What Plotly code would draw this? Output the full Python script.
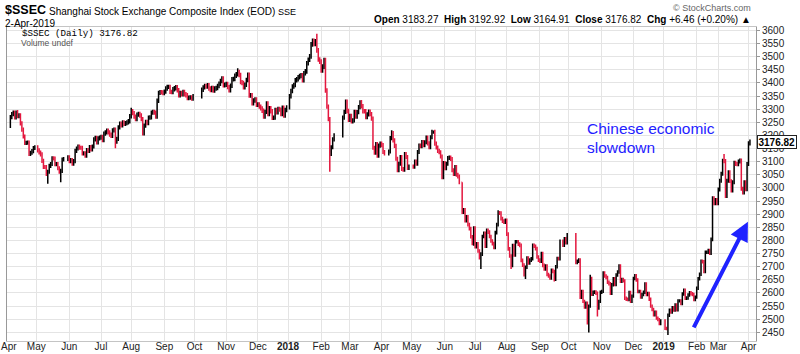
import datetime as dt
import plotly.graph_objects as go

# ---------------- data (daily closes, per month) ----------------
close_2017_04 = [3270, 3281, 3287, 3269, 3289, 3274, 3276, 3246, 3222, 3196, 3171, 3172, 3173, 3129, 3134, 3140, 3152, 3155]
close_2017_05 = [3143, 3135, 3128, 3103, 3080, 3080, 3053, 3062, 3084, 3091, 3113, 3112, 3090, 3091, 3075, 3062, 3065, 3108, 3110, 3117]
close_2017_06 = [3102, 3106, 3092, 3102, 3141, 3150, 3158, 3153, 3153, 3131, 3132, 3123, 3144, 3141, 3156, 3147, 3158, 3185, 3191, 3173, 3189, 3192]
close_2017_07 = [3195, 3182, 3207, 3212, 3218, 3212, 3203, 3198, 3219, 3222, 3176, 3187, 3231, 3245, 3238, 3250, 3244, 3247, 3250, 3254, 3273]
close_2017_08 = [3292, 3285, 3272, 3262, 3279, 3282, 3276, 3262, 3208, 3237, 3252, 3247, 3268, 3269, 3287, 3290, 3287, 3272, 3332, 3362, 3365, 3364, 3361]
close_2017_09 = [3367, 3379, 3385, 3385, 3366, 3365, 3376, 3380, 3384, 3372, 3353, 3362, 3357, 3366, 3357, 3353, 3342, 3344, 3345, 3340, 3349]
close_2017_10 = [3374, 3383, 3388, 3386, 3391, 3379, 3373, 3381, 3371, 3379, 3381, 3388, 3397, 3407, 3417, 3391, 3393]
close_2017_11 = [3396, 3384, 3372, 3389, 3414, 3415, 3427, 3433, 3447, 3430, 3403, 3400, 3383, 3393, 3411, 3431, 3352, 3353, 3322, 3333, 3337, 3317]
close_2017_12 = [3318, 3310, 3303, 3294, 3272, 3290, 3322, 3281, 3304, 3292, 3267, 3268, 3297, 3288, 3301, 3298, 3281, 3306, 3276, 3297, 3307]
close_2018_01 = [3349, 3369, 3386, 3392, 3410, 3414, 3422, 3426, 3429, 3410, 3437, 3444, 3475, 3488, 3501, 3547, 3560, 3549, 3558, 3524, 3489, 3481]
close_2018_02 = [3447, 3462, 3487, 3371, 3310, 3262, 3129, 3155, 3185, 3200, 3268, 3290, 3329, 3293, 3259]
close_2018_03 = [3274, 3254, 3257, 3290, 3272, 3289, 3308, 3327, 3311, 3292, 3292, 3270, 3280, 3291, 3281, 3264, 3153, 3134, 3167, 3123, 3161, 3169]
close_2018_04 = [3163, 3137, 3131, 3139, 3190, 3209, 3181, 3160, 3111, 3067, 3092, 3118, 3072, 3069, 3129, 3118, 3076, 3082]
close_2018_05 = [3081, 3101, 3092, 3137, 3161, 3159, 3175, 3163, 3174, 3192, 3170, 3155, 3193, 3214, 3214, 3169, 3154, 3141, 3136, 3120, 3041, 3095]
close_2018_06 = [3075, 3092, 3114, 3116, 3110, 3067, 3053, 3080, 3050, 3044, 3022, 2908, 2916, 2876, 2890, 2860, 2845, 2814, 2787, 2847]
close_2018_07 = [2776, 2787, 2760, 2734, 2748, 2815, 2827, 2778, 2838, 2832, 2815, 2798, 2788, 2773, 2830, 2860, 2905, 2904, 2883, 2874, 2870, 2876]
close_2018_08 = [2824, 2768, 2741, 2705, 2780, 2745, 2795, 2795, 2786, 2781, 2724, 2706, 2669, 2698, 2733, 2714, 2725, 2730, 2781, 2778, 2769, 2737, 2725]
close_2018_09 = [2721, 2750, 2705, 2691, 2703, 2670, 2665, 2657, 2686, 2682, 2652, 2700, 2731, 2730, 2797, 2782, 2806, 2792, 2821]
close_2018_10 = [2716, 2721, 2725, 2583, 2606, 2568, 2546, 2561, 2486, 2550, 2655, 2595, 2603, 2604, 2599, 2542, 2568, 2603]
close_2018_11 = [2606, 2676, 2665, 2659, 2641, 2635, 2599, 2631, 2654, 2632, 2668, 2680, 2703, 2645, 2651, 2646, 2580, 2576, 2575, 2602, 2568, 2588]
close_2018_12 = [2655, 2666, 2649, 2605, 2606, 2584, 2594, 2603, 2634, 2594, 2598, 2576, 2550, 2537, 2517, 2527, 2504, 2498, 2483, 2494]
close_2019_01 = [2465, 2464, 2515, 2534, 2527, 2544, 2535, 2554, 2536, 2570, 2570, 2560, 2596, 2610, 2580, 2581, 2592, 2601, 2597, 2594, 2575, 2584]
close_2019_02 = [2618, 2654, 2671, 2721, 2719, 2682, 2755, 2755, 2761, 2751, 2804, 2961, 2941, 2954, 2941]
close_2019_03 = [2994, 3027, 3054, 3103, 3102, 2969, 3027, 3060, 3026, 2990, 3022, 3096, 3091, 3090, 3101, 3104, 2997, 2982, 3022, 2995, 3091]
close_2019_04 = [3170, 3176.82]

FIRST_OPEN = 3236
# notable intraday extremes
HIGH_MARKS = {"2017-04-11": 3295, "2017-08-01": 3305, "2017-11-14": 3450, "2018-01-29": 3587,
              "2018-03-12": 3334, "2018-04-11": 3220, "2018-05-22": 3219, "2018-06-19": 2978,
              "2018-07-24": 2915, "2018-10-22": 2669, "2019-03-07": 3129}
LOW_MARKS = {"2017-05-11": 3016, "2017-05-24": 3022, "2017-07-17": 3151, "2017-08-11": 3200,
             "2018-02-09": 3062, "2018-06-28": 2782, "2018-07-06": 2691, "2018-08-06": 2691,
             "2018-08-20": 2653, "2018-09-17": 2644, "2018-10-19": 2449, "2018-10-29": 2510,
             "2019-01-04": 2440}

HOLIDAYS = ["2017-04-03", "2017-04-04", "2017-05-01", "2017-05-29", "2017-05-30",
            "2017-10-02", "2017-10-03", "2017-10-04", "2017-10-05", "2017-10-06",
            "2018-01-01", "2018-02-15", "2018-02-16", "2018-02-19", "2018-02-20", "2018-02-21",
            "2018-04-05", "2018-04-06", "2018-04-30", "2018-05-01", "2018-06-18", "2018-09-24",
            "2018-10-01", "2018-10-02", "2018-10-03", "2018-10-04", "2018-10-05",
            "2018-12-31", "2019-01-01",
            "2019-02-04", "2019-02-05", "2019-02-06", "2019-02-07", "2019-02-08"]
AXIS_SKIP = ["2019-02-04", "2019-02-05", "2019-02-06", "2019-02-07", "2019-02-08"]
LAST_DAY = dt.date(2019, 4, 2)

Y_TICKS = list(range(2450, 3601, 50))

month_closes = [
    ((2017, 4), close_2017_04), ((2017, 5), close_2017_05), ((2017, 6), close_2017_06),
    ((2017, 7), close_2017_07), ((2017, 8), close_2017_08), ((2017, 9), close_2017_09),
    ((2017, 10), close_2017_10), ((2017, 11), close_2017_11), ((2017, 12), close_2017_12),
    ((2018, 1), close_2018_01), ((2018, 2), close_2018_02), ((2018, 3), close_2018_03),
    ((2018, 4), close_2018_04), ((2018, 5), close_2018_05), ((2018, 6), close_2018_06),
    ((2018, 7), close_2018_07), ((2018, 8), close_2018_08), ((2018, 9), close_2018_09),
    ((2018, 10), close_2018_10), ((2018, 11), close_2018_11), ((2018, 12), close_2018_12),
    ((2019, 1), close_2019_01), ((2019, 2), close_2019_02), ((2019, 3), close_2019_03),
    ((2019, 4), close_2019_04),
]

# ---------------- build OHLC ----------------
hol = set(HOLIDAYS)
dates, closes = [], []
for (yy, mm), vals in month_closes:
    d = dt.date(yy, mm, 1)
    days = []
    while d.month == mm:
        if d.weekday() < 5 and d.isoformat() not in hol and d <= LAST_DAY:
            days.append(d)
        d += dt.timedelta(days=1)
    if len(days) != len(vals):
        raise ValueError(f"{yy}-{mm}: {len(days)} days vs {len(vals)} values")
    dates += days
    closes += vals

opens = [FIRST_OPEN] + closes[:-1]
PAD = 0.0025
highs, lows = [], []
for d, o, c in zip(dates, opens, closes):
    k = d.isoformat()
    h = max(o, c) * (1 + PAD)
    lo = min(o, c) * (1 - PAD)
    if k in HIGH_MARKS:
        h = max(HIGH_MARKS[k], o, c)
    if k in LOW_MARKS:
        lo = min(LOW_MARKS[k], o, c)
    highs.append(h)
    lows.append(lo)

# month ticks
tickvals, ticktext = [], []
y, m = 2017, 4
while (y, m) <= (2019, 4):
    d = dt.date(y, m, 1)
    while d.weekday() >= 5:
        d += dt.timedelta(days=1)
    tickvals.append(d.isoformat())
    ticktext.append(f"<b>{y}</b>" if m == 1 else d.strftime("%b"))
    m += 1
    if m > 12:
        m, y = 1, y + 1
first_label = ticktext[0]
ticktext[0] = ""   # first month label drawn as an annotation so it stays inside the page

RED = "#e3173e"
BLUE = "#1f22ff"
FONT = "Liberation Sans, Arial, sans-serif"

fig = go.Figure(go.Ohlc(
    x=[d.isoformat() for d in dates], open=opens, high=highs, low=lows, close=closes,
    increasing=dict(line=dict(color="#000000", width=1.5)),
    decreasing=dict(line=dict(color=RED, width=1.5)),
    tickwidth=0.5, hoverinfo="skip", showlegend=False,
))

# plot box in pixels: left 7, right 756, top 27, bottom 341
L, R, T, B = 7, 756, 27, 341
def px(xp):
    return (xp - L) / (R - L)
def py(yp):
    return (B - yp) / (B - T)

ann = [
    dict(text="<b>$SSEC</b>", x=px(3), y=py(10), font=dict(size=12.5, color="#000")),
    dict(text="Shanghai Stock Exchange Composite Index (EOD) <span style='font-size:9px'>SSE</span>",
         x=px(47), y=py(11), font=dict(size=10, color="#000")),
    dict(text="2-Apr-2019", x=px(3), y=py(23), font=dict(size=10, color="#000")),
    dict(text="$SSEC (Daily) 3176.82", x=px(20), y=py(33.5), font=dict(size=9.2, color="#000",
         family="Liberation Mono, Courier New, monospace")),
    dict(text="Volume undef", x=px(19), y=py(43), font=dict(size=8.5, color="#555")),
    dict(text="Chinese economic", x=px(585), y=py(128), font=dict(size=15.5, color=BLUE)),
    dict(text="slowdown", x=px(585), y=py(147), font=dict(size=15.5, color=BLUE)),
    dict(text=first_label, x=px(-1), y=py(346.5), font=dict(size=10, color="#222")),
]
annotations = []
for a in ann:
    a.update(xref="paper", yref="paper", xanchor="left", yanchor="middle", showarrow=False)
    a["font"].setdefault("family", FONT)
    annotations.append(a)

annotations.append(dict(
    text="<b>Open</b> 3183.27\u00a0\u00a0<b>High</b> 3192.92\u00a0\u00a0<b>Low</b> 3164.91\u00a0\u00a0"
         "<b>Close</b> 3176.82\u00a0\u00a0<b>Chg</b> +6.46 (+0.20%) \u25b2",
    x=px(753), y=py(20), xref="paper", yref="paper", xanchor="right", yanchor="middle",
    showarrow=False, font=dict(size=10, color="#000", family=FONT)))
annotations.append(dict(
    text="\u00a9 StockCharts.com", x=px(753), y=py(8), xref="paper", yref="paper",
    xanchor="right", yanchor="middle", showarrow=False,
    font=dict(size=9, color="#666", family=FONT)))
# last close label box
annotations.append(dict(
    text="<b>3176.82</b>", x=px(757), y=closes[-1], xref="paper", yref="y",
    xanchor="left", yanchor="middle", showarrow=False,
    bgcolor="#ffffff", bordercolor="#222", borderwidth=1, borderpad=0.5,
    font=dict(size=10, color="#000", family=FONT)))
# blue trend arrow
annotations.append(dict(
    x="2019-03-29 14:00", y=2871, ax="2019-01-29 10:00", ay=2463,
    xref="x", yref="y", axref="x", ayref="y", text="", showarrow=True,
    arrowhead=2, arrowsize=0.95, arrowwidth=4, arrowcolor=BLUE, standoff=0))

fig.update_layout(
    width=800, height=354,
    margin=dict(l=L, r=800 - R, t=T, b=354 - B, autoexpand=False),
    paper_bgcolor="#ffffff", plot_bgcolor="#ffffff",
    font=dict(family=FONT, size=10, color="#333"),
    annotations=annotations,
    xaxis=dict(
        type="date", range=["2017-03-31 16:00", "2019-04-08 05:00"],
        rangebreaks=[dict(bounds=["sat", "mon"]), dict(values=AXIS_SKIP)],
        rangeslider=dict(visible=False), automargin=False,
        tickmode="array", tickvals=tickvals, ticktext=ticktext,
        ticklabeloverflow="allow", ticklabelstandoff=-4,
        showgrid=True, gridcolor="#e4e4e4", gridwidth=1,
        ticks="", tickfont=dict(size=10, color="#222"),
        showline=True, linecolor="#c4c4c4", mirror=True, zeroline=False,
    ),
    yaxis=dict(
        side="right", range=[2417, 3613], tickmode="array", tickvals=Y_TICKS,
        automargin=False,
        showgrid=True, gridcolor="#e4e4e4", gridwidth=1,
        ticks="outside", ticklen=3, tickcolor="#999",
        tickfont=dict(size=10, color="#222"),
        showline=True, linecolor="#999", mirror=True, zeroline=False,
    ),
)

fig.write_html("out.html", config={"displayModeBar": False})
